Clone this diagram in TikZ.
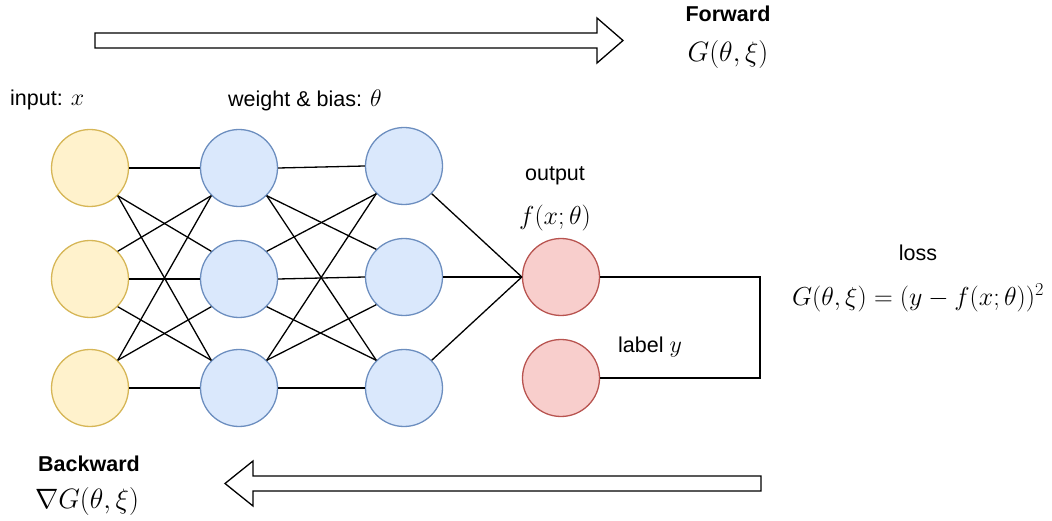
\RequirePackage{fix-cm}
\documentclass[tikz,border=0pt]{standalone}
\usepackage[no-math]{fontspec}
\setmainfont{Liberation Sans}
\usepackage{amsmath}
\usepackage{xcolor}
\usepackage{tikz}
\usetikzlibrary{positioning}

\definecolor{inpfill}{HTML}{FFF2CC}
\definecolor{inpline}{HTML}{D6B656}
\definecolor{hidfill}{HTML}{DAE8FC}
\definecolor{hidline}{HTML}{6C8EBF}
\definecolor{outfill}{HTML}{F8CECC}
\definecolor{outline}{HTML}{B85450}

\newcommand{\mathlbl}[1]{{\fontsize{24}{28}\selectfont$#1$}}

\begin{document}
\begin{tikzpicture}[
    x=1pt, y=-1pt,
    neuron/.style={circle, line width=1.3pt, minimum size=77pt,
        inner sep=0pt},
    inp/.style={neuron, draw=inpline, fill=inpfill},
    hid/.style={neuron, draw=hidline, fill=hidfill},
    outn/.style={neuron, draw=outline, fill=outfill},
    conn/.style={line width=1.3pt},
    blockarrow/.style={draw, fill=white, line width=1.3pt,
        line join=miter},
    lbl/.style={font=\fontsize{21.5}{26}\selectfont, inner sep=0pt},
    hdr/.style={font=\bfseries\fontsize{21.5}{26}\selectfont, inner sep=0pt},
    eqn/.style={font=\fontsize{26}{31}\selectfont, inner sep=0pt},
    bigeqn/.style={font=\fontsize{28}{33}\selectfont, inner sep=0pt},
]
\useasboundingbox (0,0) rectangle (1052,521);

% layers
\node[inp] (i1) at (90,168) {};
\node[inp] (i2) at (90,279) {};
\node[inp] (i3) at (90,388) {};
\node[hid] (h1) at (239,168) {};
\node[hid] (h2) at (239,279) {};
\node[hid] (h3) at (239,388) {};
\node[hid] (g1) at (404,166) {};
\node[hid] (g2) at (404,277) {};
\node[hid] (g3) at (404,388) {};
\node[outn] (out) at (561,277) {};
\node[outn] (lab) at (561,378) {};

% texts
\node[lbl, anchor=west] (inptxt) at (10,100) {input: \mathlbl{x}};
\node[lbl, anchor=west] (wtxt) at (228,100)
    {weight \& bias: \mathlbl{\theta}};
\node[lbl] (outtxt) at (555,176) {output};
\node[eqn] (fxt) at (555,218) {$f(x;\theta)$};
\node[lbl, anchor=west] (labtxt) at (618,347) {label \mathlbl{y}};
\node[lbl] (losstxt) at (918,253) {loss};
\node[eqn] (losseq) at (918,298) {$G(\theta,\xi)=(y-f(x;\theta))^2$};
\node[hdr] (fwd) at (728,14) {Forward};
\node[bigeqn] (fwdeq) at (728,55) {$G(\theta,\xi)$};
\node[hdr] (bwd) at (89,464) {Backward};
\node[bigeqn] (bwdeq) at (87,501) {$\nabla G(\theta,\xi)$};

% input -> hidden 1
\draw[conn] (i1.east) -- (h1.west);
\draw[conn] (i2.east) -- (h2.west);
\draw[conn] (i3.east) -- (h3.west);
\draw[conn] (i1.-45) -- (h2.135);
\draw[conn] (i1.-45) -- (h3.135);
\draw[conn] (i2.45) -- (h1.-135);
\draw[conn] (i2.-45) -- (h3.135);
\draw[conn] (i3.45) -- (h1.-135);
\draw[conn] (i3.45) -- (h2.-135);

% hidden 1 -> hidden 2
\draw[conn] (h1.east) -- (g1.west);
\draw[conn] (h2.east) -- (g2.west);
\draw[conn] (h3.east) -- (g3.west);
\draw[conn] (h1.-45) -- (g2.135);
\draw[conn] (h1.-45) -- (g3.135);
\draw[conn] (h2.45) -- (g1.-135);
\draw[conn] (h2.-45) -- (g3.135);
\draw[conn] (h3.45) -- (g1.-135);
\draw[conn] (h3.45) -- (g2.-135);

% hidden 2 -> output, output -> label
\draw[conn] (g1.-45) -- (out.west);
\draw[conn] (g2.east) -- (out.west);
\draw[conn] (g3.45) -- (out.west);
\coordinate (lossx) at (760,0);
\draw[conn] (out.east) -| (lossx |- lab.east) -- (lab.east);

% forward and backward arrows
\draw[blockarrow] (95,33) -- (597,33) -- (597,18) -- (623,40.5)
    -- (597,63) -- (597,48) -- (95,48) -- cycle;
\draw[blockarrow] (761,476) -- (253,476) -- (253,461) -- (225,483.5)
    -- (253,506) -- (253,491) -- (761,491) -- cycle;

\end{tikzpicture}
\end{document}
